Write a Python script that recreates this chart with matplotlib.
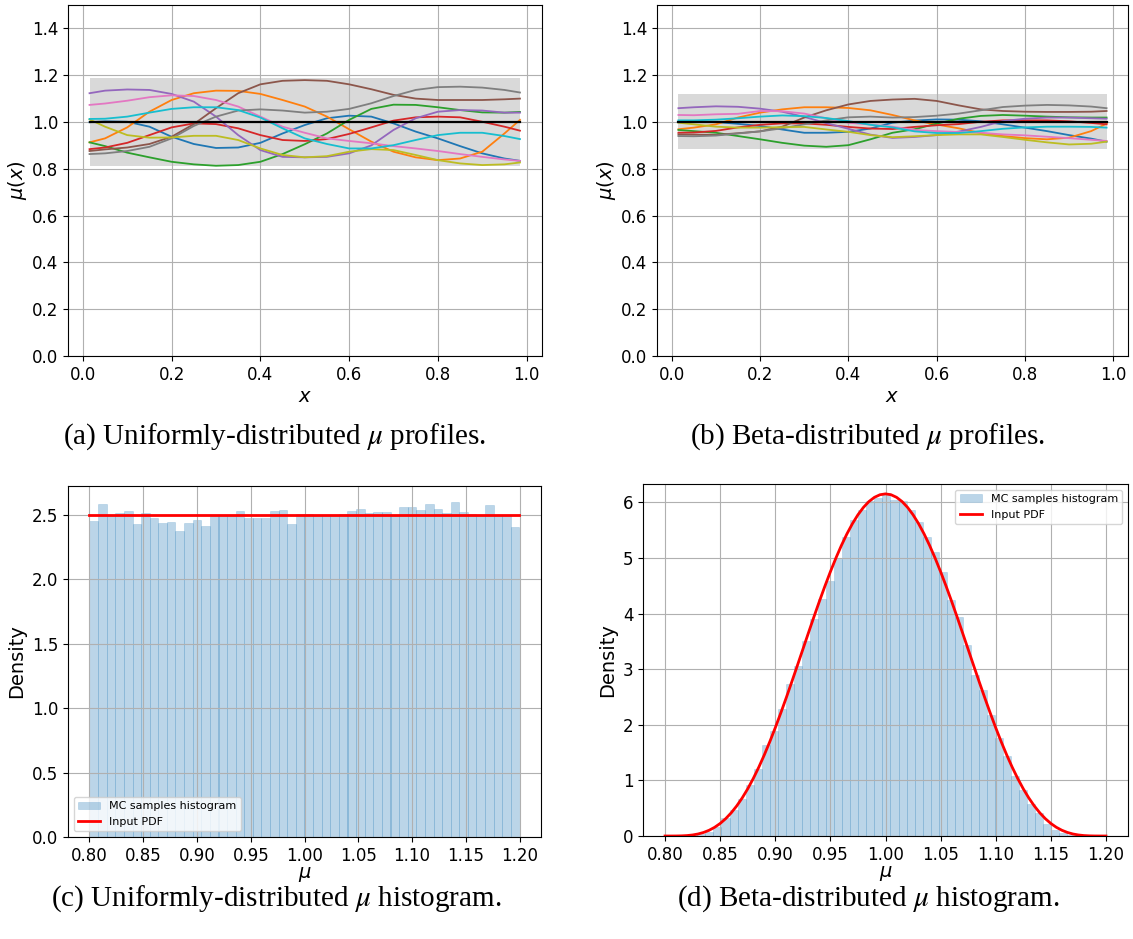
import numpy as np
import matplotlib
matplotlib.use('Agg')
import matplotlib.pyplot as plt

# ---------------- data ----------------
x_prof = [0.015, 0.05, 0.1, 0.15, 0.2, 0.25, 0.3, 0.35, 0.4, 0.45, 0.5,
          0.55, 0.6, 0.65, 0.7, 0.75, 0.8, 0.85, 0.9, 0.95, 0.985]

# uniformly-distributed profiles (C0..C9)
uni_blue   = [0.999, 1.003, 1.001, 0.980, 0.937, 0.906, 0.889, 0.891, 0.911, 0.951, 0.987, 1.016, 1.027, 1.023, 0.994, 0.959, 0.930, 0.897, 0.866, 0.844, 0.834]
uni_orange = [0.913, 0.930, 0.977, 1.044, 1.094, 1.123, 1.134, 1.133, 1.120, 1.094, 1.066, 1.023, 0.969, 0.916, 0.873, 0.849, 0.837, 0.844, 0.873, 0.951, 1.009]
uni_green  = [0.913, 0.897, 0.869, 0.849, 0.830, 0.819, 0.813, 0.816, 0.830, 0.863, 0.905, 0.951, 1.009, 1.056, 1.074, 1.073, 1.063, 1.051, 1.041, 1.040, 1.043]
uni_red    = [0.884, 0.891, 0.911, 0.944, 0.977, 0.994, 0.991, 0.973, 0.944, 0.923, 0.919, 0.927, 0.949, 0.977, 1.006, 1.020, 1.023, 1.020, 1.001, 0.980, 0.963]
uni_purple = [1.123, 1.134, 1.139, 1.137, 1.120, 1.087, 1.023, 0.944, 0.880, 0.851, 0.849, 0.851, 0.866, 0.900, 0.966, 1.016, 1.044, 1.051, 1.049, 1.040, 1.040]
uni_brown  = [0.876, 0.883, 0.891, 0.906, 0.937, 0.991, 1.059, 1.123, 1.161, 1.176, 1.179, 1.176, 1.161, 1.140, 1.116, 1.100, 1.094, 1.094, 1.094, 1.097, 1.100]
uni_pink   = [1.073, 1.079, 1.091, 1.106, 1.114, 1.111, 1.094, 1.066, 1.023, 0.980, 0.954, 0.930, 0.919, 0.909, 0.897, 0.887, 0.876, 0.863, 0.851, 0.840, 0.834]
uni_gray   = [0.863, 0.866, 0.876, 0.894, 0.930, 0.983, 1.023, 1.049, 1.054, 1.049, 1.040, 1.044, 1.056, 1.080, 1.111, 1.137, 1.149, 1.151, 1.147, 1.137, 1.126]
uni_olive  = [1.011, 0.980, 0.944, 0.933, 0.934, 0.941, 0.941, 0.923, 0.887, 0.859, 0.849, 0.854, 0.873, 0.884, 0.880, 0.859, 0.837, 0.823, 0.816, 0.819, 0.827]
uni_cyan   = [1.013, 1.014, 1.023, 1.040, 1.056, 1.063, 1.063, 1.051, 1.019, 0.973, 0.930, 0.906, 0.887, 0.887, 0.901, 0.923, 0.944, 0.954, 0.954, 0.940, 0.927]

# beta-distributed profiles (C0..C9)
bet_blue   = [1.001, 1.000, 1.000, 0.992, 0.983, 0.968, 0.954, 0.954, 0.958, 0.972, 0.997, 1.006, 1.011, 1.010, 1.003, 0.990, 0.976, 0.961, 0.944, 0.929, 0.916]
bet_orange = [0.969, 0.976, 0.990, 1.019, 1.040, 1.054, 1.063, 1.063, 1.060, 1.050, 1.030, 1.007, 0.989, 0.973, 0.953, 0.940, 0.931, 0.926, 0.933, 0.961, 0.993]
bet_green  = [0.966, 0.961, 0.954, 0.940, 0.926, 0.911, 0.899, 0.894, 0.901, 0.926, 0.954, 0.969, 0.993, 1.014, 1.026, 1.030, 1.027, 1.023, 1.020, 1.019, 1.019]
bet_red    = [0.954, 0.955, 0.962, 0.977, 0.988, 0.994, 0.994, 0.988, 0.979, 0.972, 0.970, 0.979, 0.986, 0.991, 1.001, 1.007, 1.007, 1.007, 1.003, 0.996, 0.990]
bet_purple = [1.059, 1.063, 1.067, 1.065, 1.057, 1.044, 1.022, 0.995, 0.971, 0.946, 0.932, 0.936, 0.944, 0.959, 0.979, 1.004, 1.014, 1.019, 1.019, 1.016, 1.014]
bet_brown  = [0.947, 0.946, 0.945, 0.952, 0.960, 0.980, 1.019, 1.050, 1.075, 1.090, 1.096, 1.099, 1.090, 1.071, 1.054, 1.047, 1.044, 1.043, 1.043, 1.044, 1.047]
bet_pink   = [1.030, 1.029, 1.033, 1.035, 1.047, 1.046, 1.036, 1.016, 0.997, 0.989, 0.980, 0.966, 0.961, 0.957, 0.954, 0.947, 0.943, 0.937, 0.931, 0.924, 0.919]
bet_gray   = [0.940, 0.939, 0.942, 0.951, 0.960, 0.973, 0.990, 1.007, 1.020, 1.023, 1.019, 1.021, 1.027, 1.036, 1.050, 1.064, 1.070, 1.073, 1.071, 1.066, 1.059]
bet_olive  = [0.997, 0.990, 0.980, 0.976, 0.976, 0.978, 0.979, 0.968, 0.958, 0.944, 0.935, 0.939, 0.944, 0.947, 0.947, 0.936, 0.924, 0.913, 0.904, 0.907, 0.916]
bet_cyan   = [1.007, 1.007, 1.010, 1.016, 1.023, 1.028, 1.025, 1.017, 1.004, 0.988, 0.977, 0.960, 0.953, 0.953, 0.961, 0.971, 0.977, 0.980, 0.980, 0.979, 0.976]

uni_band = (0.81, 1.19)
bet_band = (0.883, 1.118)

# uniform histogram: 50 bins on [0.8, 1.2]
uni_hist_lo, uni_hist_hi, uni_nbins = 0.8, 1.2, 50
uni_hist = [2.454, 2.585, 2.500, 2.515, 2.530, 2.430, 2.515, 2.477, 2.440, 2.446,
            2.377, 2.440, 2.460, 2.415, 2.490, 2.490, 2.500, 2.530, 2.477, 2.477,
            2.477, 2.530, 2.538, 2.430, 2.508, 2.508, 2.500, 2.500, 2.490, 2.508,
            2.530, 2.546, 2.515, 2.523, 2.523, 2.500, 2.560, 2.560, 2.538, 2.585,
            2.546, 2.515, 2.600, 2.523, 2.508, 2.500, 2.577, 2.500, 2.500, 2.408]
uni_pdf_x = [0.8, 1.2]
uni_pdf_y = [2.5, 2.5]

# beta histogram: 50 bins starting at 0.8147, width 0.0073
bet_hist_lo, bet_hist_w = 0.8147, 0.0073
bet_hist = [0.005, 0.015, 0.035, 0.075, 0.16, 0.32, 0.46, 0.67, 0.91, 1.21,
            1.63, 1.88, 2.29, 2.74, 3.06, 3.51, 3.90, 4.26, 4.59, 4.99,
            5.37, 5.69, 5.87, 6.03, 6.08, 6.17, 6.05, 6.03, 5.87, 5.64,
            5.38, 5.10, 4.75, 4.25, 3.93, 3.43, 2.90, 2.63, 2.17, 1.76,
            1.43, 1.07, 0.83, 0.58, 0.41, 0.22, 0.11, 0.06, 0.025, 0.01]
# input PDF read at steps of 0.005 from 0.80 to 1.20
bet_pdf_x0, bet_pdf_dx = 0.80, 0.005
bet_pdf_y = [0.0, 0.0000, 0.0006, 0.0027, 0.0080, 0.0186, 0.0365, 0.0640, 0.1033, 0.1565,
             0.2254, 0.3116, 0.4162, 0.5403, 0.6843, 0.8484, 1.0322, 1.2351, 1.4562, 1.6940,
             1.9466, 2.2124, 2.4886, 2.7731, 3.0631, 3.3557, 3.6477, 3.9366, 4.2190, 4.4919,
             4.7525, 4.9980, 5.2255, 5.4327, 5.6171, 5.7766, 5.9099, 6.0151, 6.0910, 6.1370,
             6.1523,
             6.1370, 6.0910, 6.0151, 5.9099, 5.7766, 5.6171, 5.4327, 5.2255, 4.9980, 4.7525,
             4.4919, 4.2190, 3.9366, 3.6477, 3.3557, 3.0631, 2.7731, 2.4886, 2.2124, 1.9466,
             1.6940, 1.4562, 1.2351, 1.0322, 0.8484, 0.6843, 0.5403, 0.4162, 0.3116, 0.2254,
             0.1565, 0.1033, 0.0640, 0.0365, 0.0186, 0.0080, 0.0027, 0.0006, 0.0000, 0.0]

captions = [r"(a) Uniformly-distributed $\mu$ profiles.",
            r"(b) Beta-distributed $\mu$ profiles.",
            r"(c) Uniformly-distributed $\mu$ histogram.",
            r"(d) Beta-distributed $\mu$ histogram."]

uni_profiles = [uni_blue, uni_orange, uni_green, uni_red, uni_purple,
                uni_brown, uni_pink, uni_gray, uni_olive, uni_cyan]
bet_profiles = [bet_blue, bet_orange, bet_green, bet_red, bet_purple,
                bet_brown, bet_pink, bet_gray, bet_olive, bet_cyan]

# ---------------- figure ----------------
W, H = 1133, 939
fig = plt.figure(figsize=(W / 100, H / 100), dpi=100)

def ax_px(l, t, r, b):
    return fig.add_axes([l / W, 1 - b / H, (r - l) / W, (b - t) / H])

TICK = 12
LAB = 14

def profile_panel(ax, profiles, band):
    ax.fill_between([x_prof[0], x_prof[-1]], [band[0]] * 2, [band[1]] * 2,
                    color='#d9d9d9', linewidth=0, zorder=1)
    for i, ys in enumerate(profiles):
        ax.plot(x_prof, ys, color=f'C{i}', lw=1.3, zorder=2)
    ax.plot([x_prof[0], x_prof[-1]], [1.0, 1.0], color='black', lw=1.6, zorder=3)
    ax.set_ylim(0, 1.5)
    ax.set_yticks(np.arange(0, 1.41, 0.2))
    ax.set_yticklabels([f'{v:.1f}' for v in np.arange(0, 1.41, 0.2)])
    ax.set_xticks(np.arange(0, 1.01, 0.2))
    ax.set_xticklabels([f'{v:.1f}' for v in np.arange(0, 1.01, 0.2)])
    ax.grid(True)
    ax.tick_params(labelsize=TICK)
    ax.set_xlabel(r'$x$', fontsize=LAB, labelpad=2)
    ax.set_ylabel(r'$\mu(x)$', fontsize=LAB, labelpad=2)

ax1 = ax_px(68, 5, 541.5, 356)
profile_panel(ax1, uni_profiles, uni_band)
ax2 = ax_px(657, 5, 1128, 356)
profile_panel(ax2, bet_profiles, bet_band)

def hist_panel(ax, edges, heights, width, px, py, ylim, yticks, yfmt, legloc):
    bars = ax.bar(edges, heights, width=width, align='edge', color='C0', alpha=0.3,
                  edgecolor='C0', linewidth=0.4, label='MC samples histogram')
    line, = ax.plot(px, py, color='red', lw=2, label='Input PDF')
    ax.set_xlim(0.78, 1.22)
    ax.set_ylim(*ylim)
    xt = np.arange(0.8, 1.201, 0.05)
    ax.set_xticks(xt)
    ax.set_xticklabels([f'{v:.2f}' for v in xt])
    ax.set_yticks(yticks)
    ax.set_yticklabels([yfmt.format(v) for v in yticks])
    ax.grid(True)
    ax.tick_params(labelsize=TICK)
    ax.set_xlabel(r'$\mu$', fontsize=LAB, labelpad=0)
    ax.set_ylabel('Density', fontsize=LAB)
    ax.legend([bars, line], ['MC samples histogram', 'Input PDF'], loc=legloc, fontsize=8)

# uniform histogram
ax3 = ax_px(68, 486, 541, 837)
uw = (uni_hist_hi - uni_hist_lo) / uni_nbins
uedges = [uni_hist_lo + k * uw for k in range(uni_nbins)]
hist_panel(ax3, uedges, uni_hist, uw, uni_pdf_x, uni_pdf_y, (0, 2.725),
           list(np.arange(0, 2.51, 0.5)), '{:.1f}', 'lower left')

# beta histogram
ax4 = ax_px(643, 484, 1128, 836)
bedges = [bet_hist_lo + k * bet_hist_w for k in range(len(bet_hist))]
bet_pdf_x = [bet_pdf_x0 + k * bet_pdf_dx for k in range(len(bet_pdf_y))]
hist_panel(ax4, bedges, bet_hist, bet_hist_w, bet_pdf_x, bet_pdf_y, (0, 6.33),
           list(range(0, 7)), '{:d}', 'upper right')

# captions (baseline positions in pixels)
cap_pos = [(275, 444), (868, 444), (276, 906), (868, 906)]
for (cx, cy), txt in zip(cap_pos, captions):
    fig.text(cx / W, 1 - cy / H, txt, ha='center', va='baseline',
             fontsize=21, family='Liberation Serif', math_fontfamily='stix')

fig.savefig('out.png', dpi=100)
